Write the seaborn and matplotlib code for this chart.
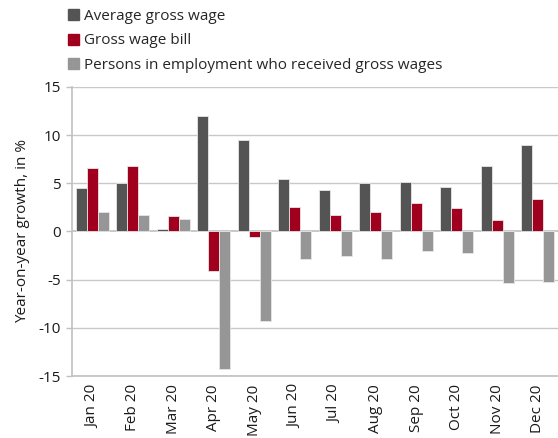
import matplotlib
matplotlib.use("Agg")
import matplotlib.pyplot as plt
import seaborn as sns
import pandas as pd

months = ["Jan 20", "Feb 20", "Mar 20", "Apr 20", "May 20", "Jun 20",
          "Jul 20", "Aug 20", "Sep 20", "Oct 20", "Nov 20", "Dec 20"]
avg_wage = [4.5, 5.0, 0.3, 12.0, 9.5, 5.5, 4.3, 5.0, 5.1, 4.6, 6.8, 9.0]
wage_bill = [6.6, 6.8, 1.6, -4.1, -0.6, 2.5, 1.7, 2.0, 3.0, 2.4, 1.2, 3.4]
persons = [2.0, 1.7, 1.3, -14.3, -9.3, -2.9, -2.5, -2.9, -2.0, -2.2, -5.3, -5.2]
series_names = ["Average gross wage", "Gross wage bill",
                "Persons in employment who received gross wages"]
colors = ["#545454", "#A0001E", "#969696"]

df = pd.DataFrame({
    "month": months * 3,
    "value": avg_wage + wage_bill + persons,
    "series": [series_names[0]] * 12 + [series_names[1]] * 12 + [series_names[2]] * 12,
})

sns.set_theme(style="white")
plt.rcParams["font.family"] = ["Open Sans", "DejaVu Sans"]

fig = plt.figure(figsize=(5.58, 4.38), dpi=100)
ax = fig.add_axes([72 / 558, 1 - 376 / 438, (558 - 72) / 558, (376 - 87) / 438])

sns.barplot(data=df, x="month", y="value", hue="series", order=months,
            hue_order=series_names, palette=colors, width=0.82,
            edgecolor="#e6e6e6", linewidth=0.6, saturation=1, ax=ax, zorder=3)

ax.set_ylim(-15, 15)
ax.set_xlim(-0.5, 11.5)
ax.set_yticks(range(-15, 16, 5))
ax.set_yticklabels([str(v) for v in range(-15, 16, 5)], fontsize=11, color="#1a1a1a")
ax.set_xticks(range(12))
ax.set_xticklabels(months, rotation=90, fontsize=11, color="#1a1a1a")
ax.tick_params(axis="x", length=0, pad=6)
ax.tick_params(axis="y", length=4, width=1, color="#c0c0c0", pad=4, left=True)
ax.set_xlabel("")
ax.set_ylabel("Year-on-year growth, in %", fontsize=11, color="#1a1a1a", labelpad=6)

for v in range(-15, 16, 5):
    ax.axhline(v, color="#c8c8c8", lw=1.4 if v == 0 else 1.0, zorder=1)

for side in ["top", "right"]:
    ax.spines[side].set_visible(False)
for side in ["left", "bottom"]:
    ax.spines[side].set_color("#c0c0c0")
    ax.spines[side].set_linewidth(1.2)

ax.legend_.remove()
handles = [plt.Rectangle((0, 0), 1, 1, color=c) for c in colors]
fig.legend(handles, series_names, loc="upper left", bbox_to_anchor=(68 / 558, 1 - 9 / 438),
           frameon=False, fontsize=11, handlelength=0.75, handleheight=0.75,
           handletextpad=0.3, labelspacing=0.62, borderaxespad=0, borderpad=0)

fig.savefig("out.png", dpi=100)
